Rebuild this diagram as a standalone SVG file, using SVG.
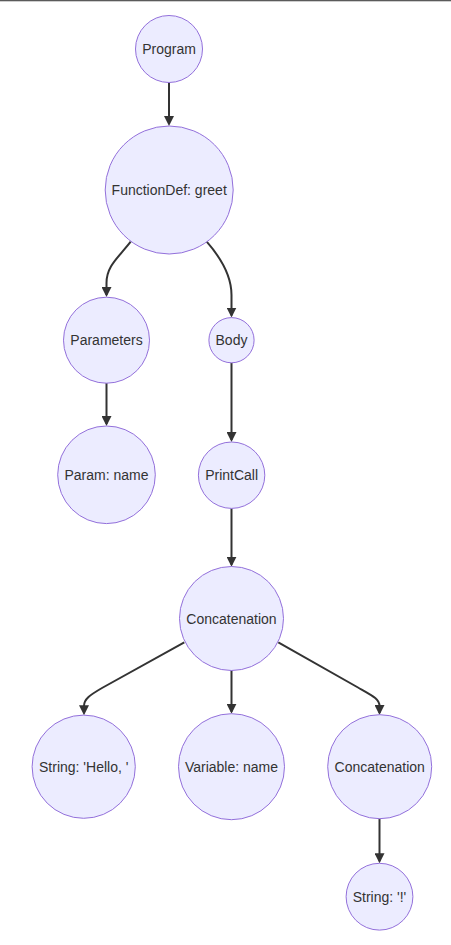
<svg xmlns="http://www.w3.org/2000/svg" width="451" height="945" viewBox="0 0 451 945">
<style>
.node circle{fill:#ECECFF;stroke:#9370DB;stroke-width:1}
.node text{font-family:"Liberation Sans",Arial,sans-serif;font-size:14px;fill:#333;text-anchor:middle;dominant-baseline:central}
.edge{fill:none;stroke:#333;stroke-width:2}
</style>
<defs>
<marker id="arrow" viewBox="0 0 10 10" refX="8" refY="5" markerWidth="10" markerHeight="10" markerUnits="userSpaceOnUse" orient="auto">
<path d="M0,0 L10,5 L0,10 z" fill="#333"/>
</marker>
</defs>
<rect x="0" y="0" width="451" height="1.3" fill="#5a5a5a"/>
<g id="connectors">
<path class="edge" d="M169,82.7 L169,124" marker-end="url(#arrow)"/>
<path class="edge" d="M130.7,241.7 C118,258 106.5,266 106.5,283 L106.5,295" marker-end="url(#arrow)"/>
<path class="edge" d="M206.7,241.7 C221,258 231.5,275 231.5,295 L231.5,315.5" marker-end="url(#arrow)"/>
<path class="edge" d="M106.5,383 L106.5,424" marker-end="url(#arrow)"/>
<path class="edge" d="M231.5,362.7 L231.5,440" marker-end="url(#arrow)"/>
<path class="edge" d="M231.5,508.3 L231.5,564.7" marker-end="url(#arrow)"/>
<path class="edge" d="M184.3,642.3 L102,688 C90,695 84,699 84,706 L84,713.3" marker-end="url(#arrow)"/>
<path class="edge" d="M231.5,670.3 L231.5,711.7" marker-end="url(#arrow)"/>
<path class="edge" d="M278.3,642.3 L358,687.5 C373,696 379.5,699 379.5,706 L379.5,713" marker-end="url(#arrow)"/>
<path class="edge" d="M379.5,818.3 L379.5,861.3" marker-end="url(#arrow)"/>
</g>
<g id="program" class="node"><circle cx="169" cy="49" r="33.5"/><text x="169" y="49">Program</text></g>
<g id="functiondef" class="node"><circle cx="169.2" cy="190" r="64"/><text x="169.2" y="190">FunctionDef: greet</text></g>
<g id="parameters" class="node"><circle cx="106.5" cy="340.2" r="43"/><text x="106.5" y="340.2">Parameters</text></g>
<g id="body" class="node"><circle cx="231.5" cy="340.2" r="22.6"/><text x="231.5" y="340.2">Body</text></g>
<g id="param_name" class="node"><circle cx="106.5" cy="474.8" r="48.8"/><text x="106.5" y="474.8">Param: name</text></g>
<g id="printcall" class="node"><circle cx="231.6" cy="475.2" r="33.2"/><text x="231.6" y="475.2">PrintCall</text></g>
<g id="concat1" class="node"><circle cx="231.5" cy="618.5" r="52"/><text x="231.5" y="618.5">Concatenation</text></g>
<g id="string_hello" class="node"><circle cx="83.7" cy="766.7" r="51.6"/><text x="83.7" y="766.7">String: 'Hello, '</text></g>
<g id="variable_name" class="node"><circle cx="231.5" cy="766.7" r="53"/><text x="231.5" y="766.7">Variable: name</text></g>
<g id="concat2" class="node"><circle cx="379.7" cy="766.7" r="52"/><text x="379.7" y="766.7">Concatenation</text></g>
<g id="string_excl" class="node"><circle cx="379.5" cy="896.7" r="33.4"/><text x="379.5" y="896.7">String: '!'</text></g>
</svg>
